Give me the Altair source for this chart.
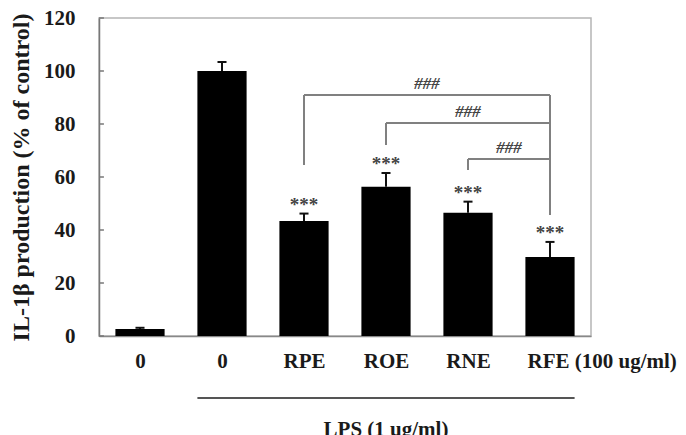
import altair as alt
import pandas as pd

# Treatment groups, their tick labels, mean response and upper SD
groups = ["Control", "LPS", "RPE", "ROE", "RNE", "RFE"]
tick_labels = ["0", "0", "RPE", "ROE", "RNE", "RFE (100 ug/ml)"]
means = [2.6, 100.0, 43.4, 56.3, 46.5, 29.8]
sds = [0.5, 3.4, 2.8, 5.2, 4.2, 5.7]
stars = ["", "", "***", "***", "***", "***"]

# Comparisons of each extract against RFE
cmp_from = [2, 3, 4]
cmp_to = 5
cmp_height = [90.9, 80.4, 66.8]
cmp_left_low = [64.5, 72.1, 62.6]
cmp_right_low = 45.7
cmp_text = ["###", "###", "###"]

y_ticks = [0, 20, 40, 60, 80, 100, 120]

FONT = "Liberation Serif"
W, H = 492, 318
HALF = 0.3      # half bar width in category units
CAP = 0.055     # half width of error-bar cap

df = pd.DataFrame({
    "idx": list(range(len(groups))),
    "group": groups,
    "mean": means,
    "sd": sds,
    "stars": stars,
})
df["left"] = df["idx"] - HALF
df["right"] = df["idx"] + HALF
df["top"] = df["mean"] + df["sd"]
df["cap_l"] = df["idx"] - CAP
df["cap_r"] = df["idx"] + CAP
df["star_y"] = df["top"] + 3.4

label_map = "{" + ", ".join(f"'{i}': '{t}'" for i, t in enumerate(tick_labels)) + "}"

xs = alt.Scale(domain=[-0.5, len(groups) - 0.5], nice=False, zero=False)
ys = alt.Scale(domain=[0, 120], nice=False)

x_axis = alt.Axis(
    values=list(range(len(groups))),
    labelExpr=f"{label_map}[datum.value]",
    ticks=False, grid=False, title=None,
    labelFont=FONT, labelFontWeight="bold", labelFontSize=21, labelColor="#1a1a1a",
    labelPadding=14, labelOverlap=False,
    labelAlign={"condition": {"test": f"datum.value == {len(groups) - 1}", "value": "left"}, "value": "center"},
    labelOffset={"condition": {"test": f"datum.value == {len(groups) - 1}", "value": -23}, "value": 0},
    domainColor="#888", domainWidth=1.5,
)
y_axis = alt.Axis(
    values=y_ticks, ticks=False, grid=False,
    title="IL-1β production (% of control)",
    titleFont=FONT, titleFontWeight="bold", titleFontSize=24, titleColor="#1a1a1a",
    titlePadding=10,
    labelFont=FONT, labelFontWeight="bold", labelFontSize=21, labelColor="#1a1a1a",
    labelPadding=24,
    domainColor="#777", domainWidth=1.5,
)

base = alt.Chart(df)

bars = base.mark_bar(color="black").encode(
    x=alt.X("left:Q", scale=xs, axis=x_axis),
    x2="right:Q",
    y=alt.Y("mean:Q", scale=ys, axis=y_axis),
    y2=alt.datum(0),
)
err = base.mark_rule(color="#111", strokeWidth=2).encode(x="idx:Q", y="mean:Q", y2="top:Q")
caps = base.mark_rule(color="#111", strokeWidth=2).encode(x="cap_l:Q", x2="cap_r:Q", y="top:Q")
star_txt = base.mark_text(font=FONT, fontWeight="bold", fontSize=19, color="#444",
                          baseline="middle").encode(x="idx:Q", y="star_y:Q", text="stars:N")

# inward ticks on the value axis
tick_df = pd.DataFrame({"v": y_ticks, "x0": -0.5, "x1": -0.44})
yticks = alt.Chart(tick_df).mark_rule(color="#777", strokeWidth=1.5).encode(
    x="x0:Q", x2="x1:Q", y="v:Q")

# significance brackets
cmp_df = pd.DataFrame({
    "a": cmp_from,
    "b": [cmp_to] * len(cmp_from),
    "h": cmp_height,
    "low": cmp_left_low,
    "txt": cmp_text,
})
cmp_df["mid"] = (cmp_df["a"] + cmp_df["b"]) / 2
cmp_df["txt_y"] = cmp_df["h"] + 4.3
bc = alt.Chart(cmp_df)
br_h = bc.mark_rule(color="#808080", strokeWidth=2).encode(x="a:Q", x2="b:Q", y="h:Q")
br_l = bc.mark_rule(color="#808080", strokeWidth=2).encode(x="a:Q", y="low:Q", y2="h:Q")
right_df = pd.DataFrame({"b": [cmp_to], "low": [cmp_right_low], "high": [max(cmp_height)]})
br_r = alt.Chart(right_df).mark_rule(color="#808080", strokeWidth=2).encode(
    x="b:Q", y="low:Q", y2="high:Q")
br_t = bc.mark_text(font=FONT, fontWeight="bold", fontStyle="italic", fontSize=17,
                    color="#444", baseline="middle").encode(x="mid:Q", y="txt_y:Q", text="txt:N")

# LPS group annotation under the axis
lps_df = pd.DataFrame({"x0": [1 - HALF], "x1": [len(groups) - 1 + HALF],
                       "xm": [(1 - HALF + len(groups) - 1 + HALF) / 2], "t": ["LPS (1 ug/ml)"]})
lps_line = alt.Chart(lps_df).mark_rule(color="#555", strokeWidth=2).encode(
    x="x0:Q", x2="x1:Q", y=alt.value(H + 62))
lps_txt = alt.Chart(lps_df).mark_text(font=FONT, fontWeight="bold", fontSize=21, color="#1a1a1a",
                                      baseline="alphabetic").encode(
    x="xm:Q", y=alt.value(H + 100), text="t:N")

chart = alt.layer(
    bars, err, caps, star_txt, yticks, br_h, br_l, br_r, br_t, lps_line, lps_txt
).properties(
    width=W, height=H,
    autosize=alt.AutoSizeParams(type="none"),
    padding={"left": 99, "top": 18, "right": 95, "bottom": 99},
).configure_view(
    stroke="#b5b5b5", strokeWidth=1.5
)

chart.save("out.html", embed_options={"renderer": "svg", "actions": False})
